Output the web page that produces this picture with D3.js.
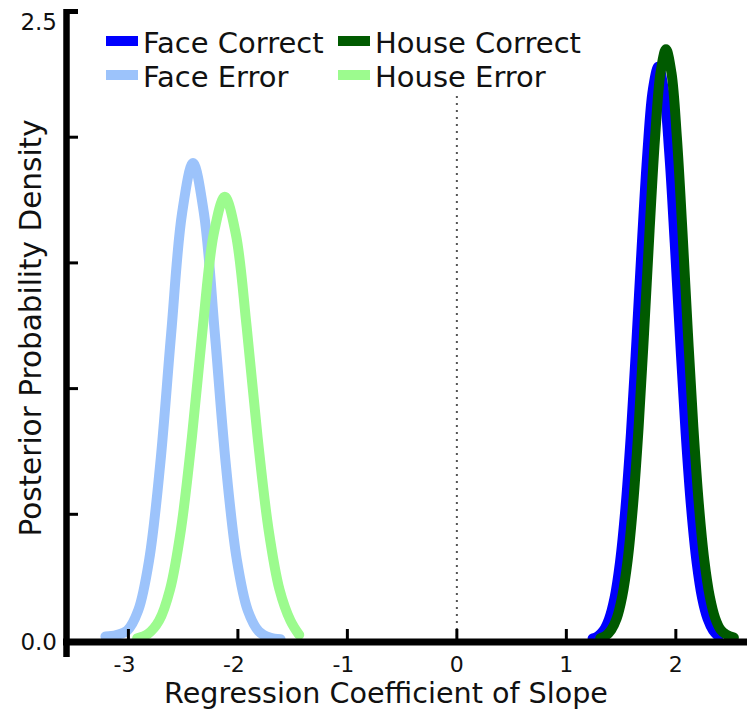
<!DOCTYPE html>
<html>
<head>
<meta charset="utf-8">
<script src="https://cdn.jsdelivr.net/npm/d3@7"></script>
<style>
  html, body { margin: 0; padding: 0; background: #fff; }
  svg { display: block; }
  text { font-family: "DejaVu Sans", Verdana, sans-serif; fill: #111; }
</style>
</head>
<body>
<svg id="chart" width="747" height="713"></svg>
<script>
// ---- data ----
const seriesNames = ["Face Error", "House Error", "Face Correct", "House Correct"];
const seriesColors = ["#9cc3fb", "#9cfb8e", "#0000ff", "#005a00"];

const faceErrorX = [-3.21, -3.11, -3.01, -2.91, -2.81, -2.71, -2.61, -2.51, -2.41, -2.31, -2.21, -2.11, -2.01, -1.91, -1.81, -1.71, -1.61];
const faceErrorY = [0.014, 0.02, 0.038, 0.118, 0.320, 0.697, 1.216, 1.697, 1.897, 1.697, 1.216, 0.697, 0.320, 0.118, 0.035, 0.010, 0.003];

const houseErrorX = [-2.92, -2.82, -2.72, -2.62, -2.52, -2.42, -2.32, -2.22, -2.12, -2.02, -1.92, -1.82, -1.72, -1.62, -1.52, -1.44];
const houseErrorY = [0.007, 0.025, 0.077, 0.201, 0.440, 0.807, 1.246, 1.617, 1.763, 1.617, 1.246, 0.807, 0.440, 0.201, 0.077, 0.020];

const faceCorrectX = [1.24, 1.29, 1.34, 1.39, 1.44, 1.49, 1.54, 1.59, 1.64, 1.69, 1.74, 1.79, 1.84, 1.89, 1.94, 1.99, 2.04, 2.09, 2.14, 2.19, 2.24, 2.29, 2.34, 2.39];
const faceCorrectY = [0.006, 0.016, 0.038, 0.084, 0.167, 0.309, 0.525, 0.822, 1.187, 1.579, 1.937, 2.189, 2.280, 2.189, 1.937, 1.579, 1.187, 0.822, 0.525, 0.309, 0.167, 0.084, 0.038, 0.014];

const houseCorrectX = [1.31, 1.36, 1.41, 1.46, 1.51, 1.56, 1.61, 1.66, 1.71, 1.76, 1.81, 1.86, 1.91, 1.96, 2.01, 2.06, 2.11, 2.16, 2.21, 2.26, 2.31, 2.36, 2.41, 2.46, 2.53];
const houseCorrectY = [0.007, 0.017, 0.040, 0.086, 0.173, 0.318, 0.541, 0.847, 1.223, 1.628, 1.996, 2.256, 2.350, 2.256, 1.996, 1.628, 1.223, 0.847, 0.541, 0.318, 0.173, 0.086, 0.040, 0.022, 0.010];

const xTickValues = [-3, -2, -1, 0, 1, 2];
const xTickLabels = ["-3", "-2", "-1", "0", "1", "2"];
const yTickValues = [0, 0.5, 1, 1.5, 2, 2.5];
const yTickLabels = ["0.0", "", "", "", "", "2.5"];

const xTitle = "Regression Coefficient of Slope";
const yTitle = "Posterior Probability Density";

// ---- layout ----
const svg = d3.select("#chart");
const x = d3.scaleLinear().domain([-3.57, 2.65]).range([66, 747]);
const y = d3.scaleLinear().domain([0, 2.5]).range([640, 11.5]);

const series = [
  { name: seriesNames[0], color: seriesColors[0], xs: faceErrorX, ys: faceErrorY },
  { name: seriesNames[1], color: seriesColors[1], xs: houseErrorX, ys: houseErrorY },
  { name: seriesNames[2], color: seriesColors[2], xs: faceCorrectX, ys: faceCorrectY },
  { name: seriesNames[3], color: seriesColors[3], xs: houseCorrectX, ys: houseCorrectY }
];

// zero reference dotted line
svg.append("line")
  .attr("x1", x(0)).attr("x2", x(0))
  .attr("y1", 96).attr("y2", y(0) - 4)
  .attr("stroke", "#555").attr("stroke-width", 2)
  .attr("stroke-dasharray", "2,5");

// curves
const line = d3.line()
  .x(d => x(d[0])).y(d => y(d[1]))
  .curve(d3.curveCatmullRom.alpha(0.5));

svg.selectAll("path.curve")
  .data(series)
  .join("path")
  .attr("class", "curve")
  .attr("d", s => line(s.xs.map((v, i) => [v, s.ys[i]])))
  .attr("fill", "none")
  .attr("stroke", s => s.color)
  .attr("stroke-width", 10)
  .attr("stroke-linejoin", "round")
  .attr("stroke-linecap", "round");

// x axis
const xAxisG = svg.append("g");
xAxisG.append("line")
  .attr("x1", 63).attr("x2", 747)
  .attr("y1", y(0) + 2).attr("y2", y(0) + 2)
  .attr("stroke", "#000").attr("stroke-width", 7);
xAxisG.selectAll("line.xt")
  .data(xTickValues)
  .join("line").attr("class", "xt")
  .attr("x1", d => x(d)).attr("x2", d => x(d))
  .attr("y1", y(0) - 11).attr("y2", y(0))
  .attr("stroke", "#000").attr("stroke-width", 3);
xAxisG.selectAll("text.xl")
  .data(xTickValues)
  .join("text").attr("class", "xl")
  .attr("x", (d, i) => x(d) - (xTickLabels[i].startsWith("-") ? 4 : 0))
  .attr("y", 672)
  .attr("text-anchor", "middle")
  .attr("font-size", 22)
  .text((d, i) => xTickLabels[i]);

// y axis
const yAxisG = svg.append("g");
yAxisG.append("line")
  .attr("x1", 66.5).attr("x2", 66.5)
  .attr("y1", 9).attr("y2", 657)
  .attr("stroke", "#000").attr("stroke-width", 6.5);
yAxisG.selectAll("line.yt")
  .data(yTickValues.filter(v => v > 0))
  .join("line").attr("class", "yt")
  .attr("x1", 66).attr("x2", 78)
  .attr("y1", d => y(d)).attr("y2", d => y(d))
  .attr("stroke", "#000").attr("stroke-width", d => d === 2.5 ? 5 : 3);
yAxisG.selectAll("text.yl")
  .data(yTickValues)
  .join("text").attr("class", "yl")
  .attr("x", 57)
  .attr("y", d => d === 2.5 ? y(d) + 18 : y(d) + 10)
  .attr("text-anchor", "end")
  .attr("font-size", 23)
  .text((d, i) => yTickLabels[i]);

// axis titles
svg.append("text")
  .attr("x", 386).attr("y", 703)
  .attr("text-anchor", "middle")
  .attr("font-size", 28.6)
  .text(xTitle);
svg.append("text")
  .attr("transform", "translate(41,328) rotate(-90)")
  .attr("text-anchor", "middle")
  .attr("font-size", 29.5)
  .text(yTitle);

// legend
const legendOrder = [2, 3, 0, 1];
const legendPos = [[106, 43], [338, 43], [106, 77], [338, 77]];
const leg = svg.append("g");
legendOrder.forEach((si, k) => {
  const [lx, ly] = legendPos[k];
  leg.append("rect")
    .attr("x", lx).attr("y", ly - 7)
    .attr("width", 32).attr("height", 10)
    .attr("fill", series[si].color);
  leg.append("text")
    .attr("x", lx + 37).attr("y", ly + 10)
    .attr("font-size", 29)
    .text(series[si].name);
});
</script>
</body>
</html>
